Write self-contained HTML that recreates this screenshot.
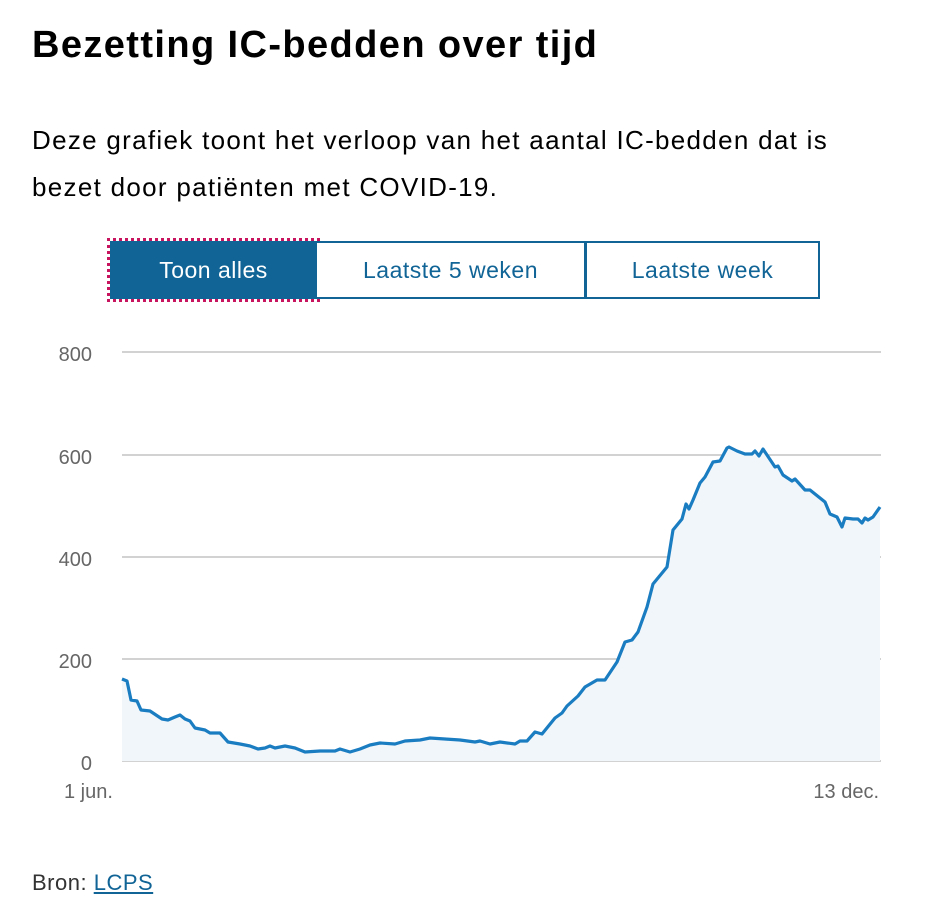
<!DOCTYPE html>
<html><head><meta charset="utf-8"><style>
body{margin:0;width:930px;height:924px;background:#fff;font-family:"Liberation Sans",sans-serif;color:#000;position:relative;overflow:hidden}
h1{position:absolute;left:32px;top:24px;margin:0;font-size:38px;font-weight:bold;letter-spacing:1.4px}
p{position:absolute;left:32px;top:117px;margin:0;font-size:26px;line-height:47px;width:830px;letter-spacing:1.3px}
.btns{position:absolute;left:110px;top:241px;height:58px;display:flex}
.b{box-sizing:border-box;height:58px;border:2px solid #106496;color:#106496;font-size:23px;display:flex;align-items:center;justify-content:center;background:#fff;letter-spacing:0.5px}
.b1{width:207px;background:#106496;color:#fff;outline:3px dotted #c8145f;outline-offset:0}
.b2{width:269px;border-left:none}
.b3{width:235px;border-left:2px solid #106496;margin-left:-1px}
.src{position:absolute;left:32px;top:870px;font-size:22px;color:#333;letter-spacing:0.5px}
.src a{color:#106496;text-decoration:underline}
</style></head><body>
<h1>Bezetting IC-bedden over tijd</h1>
<p>Deze grafiek toont het verloop van het aantal IC-bedden dat is bezet door patiënten met COVID-19.</p>
<div class="btns"><div class="b b1">Toon alles</div><div class="b b2">Laatste 5 weken</div><div class="b b3">Laatste week</div></div>
<svg style="position:absolute;left:0;top:0" width="930" height="924">
<g stroke="#c4c4c4" stroke-width="1.5">
<line x1="122" x2="881" y1="352" y2="352"/><line x1="122" x2="881" y1="455" y2="455"/><line x1="122" x2="881" y1="557" y2="557"/><line x1="122" x2="881" y1="659" y2="659"/><line x1="122" x2="881" y1="761" y2="761"/>
</g>
<g font-size="20" fill="#666" text-anchor="end" font-family="Liberation Sans, sans-serif">
<text x="92" y="361">800</text><text x="92" y="464">600</text><text x="92" y="566">400</text><text x="92" y="668">200</text><text x="92" y="770">0</text>
</g>
<g font-size="20" fill="#666" font-family="Liberation Sans, sans-serif">
<text x="64" y="798">1 jun.</text><text x="879" y="798" text-anchor="end">13 dec.</text>
</g>
<path fill="#f1f6fb" d="M122,679 L127,681 131,700 137,701 141,710 150,711 156,715 162,719 168,720 175,717 180,715 185,719 190,721 195,728 205,730 210,733 220,733 228,742 240,744 250,746 258,749 265,748 270,746 275,748 285,746 295,748 305,752 320,751 335,751 340,749 350,752 360,749 370,745 380,743 395,744 405,741 420,740 430,738 445,739 460,740 475,742 480,741 490,744 500,742 515,744 520,741 527,741 535,732 542,734 555,718 562,713 567,706 578,696 585,687 597,680 605,680 617,662 625,642 632,640 638,632 647,607 653,584 667,567 673,530 682,519 686,504 689,509 693,500 700,483 705,477 713,462 720,461 727,448 729,447 737,451 745,454 752,454 755,451 759,456 763,449 775,467 778,466 783,475 792,481 795,479 805,490 810,490 825,502 830,514 837,517 842,527 845,518 853,519 858,519 862,523 865,518 868,520 873,517 880,507 L880,761 L122,761Z"/>
<polyline fill="none" stroke="#1a7cc1" stroke-width="3.2" stroke-linejoin="round" points="122,679 127,681 131,700 137,701 141,710 150,711 156,715 162,719 168,720 175,717 180,715 185,719 190,721 195,728 205,730 210,733 220,733 228,742 240,744 250,746 258,749 265,748 270,746 275,748 285,746 295,748 305,752 320,751 335,751 340,749 350,752 360,749 370,745 380,743 395,744 405,741 420,740 430,738 445,739 460,740 475,742 480,741 490,744 500,742 515,744 520,741 527,741 535,732 542,734 555,718 562,713 567,706 578,696 585,687 597,680 605,680 617,662 625,642 632,640 638,632 647,607 653,584 667,567 673,530 682,519 686,504 689,509 693,500 700,483 705,477 713,462 720,461 727,448 729,447 737,451 745,454 752,454 755,451 759,456 763,449 775,467 778,466 783,475 792,481 795,479 805,490 810,490 825,502 830,514 837,517 842,527 845,518 853,519 858,519 862,523 865,518 868,520 873,517 880,507"/>
</svg>
<div class="src">Bron: <a>LCPS</a></div>
</body></html>
